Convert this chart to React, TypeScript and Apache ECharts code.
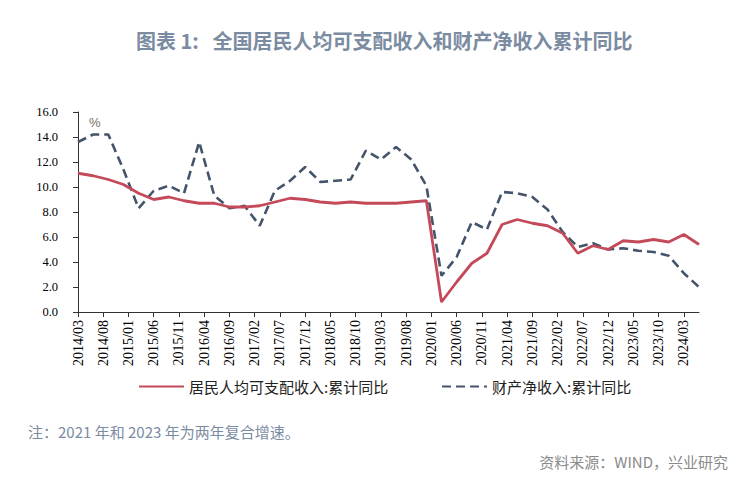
import React, { useEffect, useRef } from 'react';
import * as echarts from 'echarts';

const TITLE = '图表 1:\u00a0\u00a0\u00a0全国居民人均可支配收入和财产净收入累计同比';
const NOTE = '注：2021 年和 2023 年为两年复合增速。';
const SOURCE = '资料来源：WIND，兴业研究';
const SERIES_NAMES = ['居民人均可支配收入:累计同比', '财产净收入:累计同比'];

const quarters = [
  '2014/03', '2014/06', '2014/09', '2014/12',
  '2015/03', '2015/06', '2015/09', '2015/12',
  '2016/03', '2016/06', '2016/09', '2016/12',
  '2017/03', '2017/06', '2017/09', '2017/12',
  '2018/03', '2018/06', '2018/09', '2018/12',
  '2019/03', '2019/06', '2019/09', '2019/12',
  '2020/03', '2020/06', '2020/09', '2020/12',
  '2021/03', '2021/06', '2021/09', '2021/12',
  '2022/03', '2022/06', '2022/09', '2022/12',
  '2023/03', '2023/06', '2023/09', '2023/12',
  '2024/03', '2024/06',
];

const disposableIncome = [
  11.1, 10.9, 10.6, 10.2,
  9.5, 9.0, 9.2, 8.9,
  8.7, 8.7, 8.4, 8.4,
  8.5, 8.8, 9.1, 9.0,
  8.8, 8.7, 8.8, 8.7,
  8.7, 8.7, 8.8, 8.9,
  0.8, 2.4, 3.9, 4.7,
  7.0, 7.4, 7.1, 6.9,
  6.3, 4.7, 5.3, 5.0,
  5.7, 5.6, 5.8, 5.6,
  6.2, 5.4,
];

const propertyIncome = [
  13.6, 14.2, 14.2, 11.4,
  8.3, 9.7, 10.1, 9.5,
  13.6, 9.3, 8.3, 8.5,
  6.9, 9.7, 10.5, 11.6,
  10.4, 10.5, 10.6, 12.9,
  12.2, 13.2, 12.2, 10.1,
  2.9, 4.4, 7.2, 6.6,
  9.6, 9.5, 9.2, 8.2,
  6.4, 5.2, 5.5, 5.0,
  5.1, 4.9, 4.8, 4.5,
  3.1, 2.0,
];

// monthly category axis from first to last quarter
function buildMonths(start: string, end: string): string[] {
  const [sy, sm] = start.split('/').map(Number);
  const [ey, em] = end.split('/').map(Number);
  const out: string[] = [];
  let y = sy, m = sm;
  while (y < ey || (y === ey && m <= em)) {
    out.push(`${y}/${String(m).padStart(2, '0')}`);
    m++;
    if (m > 12) { m = 1; y++; }
  }
  return out;
}
const months = buildMonths(quarters[0], quarters[quarters.length - 1]);

const RED = '#C44A5A';
const NAVY = '#44546A';

export default function App() {
  const ref = useRef<HTMLDivElement>(null);
  useEffect(() => {
    document.body.style.margin = '0';
    const chart = echarts.init(ref.current!, null, { renderer: 'svg' });
    const legendText = { fontSize: 15, color: '#222', fontFamily: '"Noto Sans CJK SC", sans-serif' };
    chart.setOption({
      animation: false,
      backgroundColor: '#fff',
      title: {
        text: TITLE,
        left: 131,
        top: 25,
        textStyle: { fontSize: 20, fontWeight: 'bold', color: '#7B8BA1', fontFamily: '"Noto Sans CJK SC", sans-serif' },
      },
      legend: [
        {
          data: [SERIES_NAMES[0]], left: 138, top: 379, padding: 0,
          itemWidth: 45, itemHeight: 10, textStyle: legendText,
          itemStyle: { opacity: 0 },
        },
        {
          data: [SERIES_NAMES[1]], left: 441, top: 379, padding: 0,
          itemWidth: 45, itemHeight: 10, textStyle: legendText,
          itemStyle: { opacity: 0 },
        },
      ],
      grid: { left: 78, right: 48, top: 112, bottom: 175 },
      xAxis: {
        type: 'category',
        data: months,
        boundaryGap: false,
        axisLine: { lineStyle: { color: '#333', width: 1 } },
        axisTick: { interval: 4, length: 5, lineStyle: { color: '#333' } },
        axisLabel: {
          interval: 4, rotate: 90, margin: 8, color: '#000',
          fontSize: 14, fontFamily: '"Liberation Serif", "Times New Roman", serif',
        },
        splitLine: { show: false },
      },
      yAxis: {
        type: 'value',
        min: 0, max: 16, interval: 2,
        axisLine: { show: true, lineStyle: { color: '#333', width: 1 } },
        axisTick: { show: true, length: 5, lineStyle: { color: '#333' } },
        axisLabel: {
          margin: 20, color: '#000', fontSize: 12.5,
          fontFamily: '"Liberation Serif", "Times New Roman", serif',
          formatter: (v: number) => v.toFixed(1),
        },
        splitLine: { show: false },
      },
      series: [
        {
          name: SERIES_NAMES[0],
          type: 'line',
          data: quarters.map((q, i) => [q, disposableIncome[i]]),
          symbol: 'none',
          lineStyle: { color: RED, width: 2.8 },
          itemStyle: { color: RED },
          z: 3,
        },
        {
          name: SERIES_NAMES[1],
          type: 'line',
          data: quarters.map((q, i) => [q, propertyIncome[i]]),
          symbol: 'none',
          lineStyle: { color: NAVY, width: 2.6, type: [9, 5] },
          itemStyle: { color: NAVY },
          z: 2,
        },
      ],
      graphic: [
        {
          type: 'text', left: 89, top: 116,
          style: { text: '%', fontSize: 13, fill: '#7A6E62', fontFamily: '"Liberation Sans", sans-serif' },
        },
        {
          type: 'text', left: 28, top: 424,
          style: { text: NOTE, fontSize: 15, fill: '#7B8BA1', fontFamily: '"Noto Sans CJK SC", sans-serif' },
        },
        {
          type: 'text', right: 19, top: 454,
          style: { text: SOURCE, fontSize: 15, fill: '#8A8A8A', fontFamily: '"Noto Sans CJK SC", sans-serif' },
        },
      ],
    });
    return () => chart.dispose();
  }, []);
  return <div ref={ref} style={{ width: 747, height: 487, position: 'absolute', left: 0, top: 0 }} />;
}
